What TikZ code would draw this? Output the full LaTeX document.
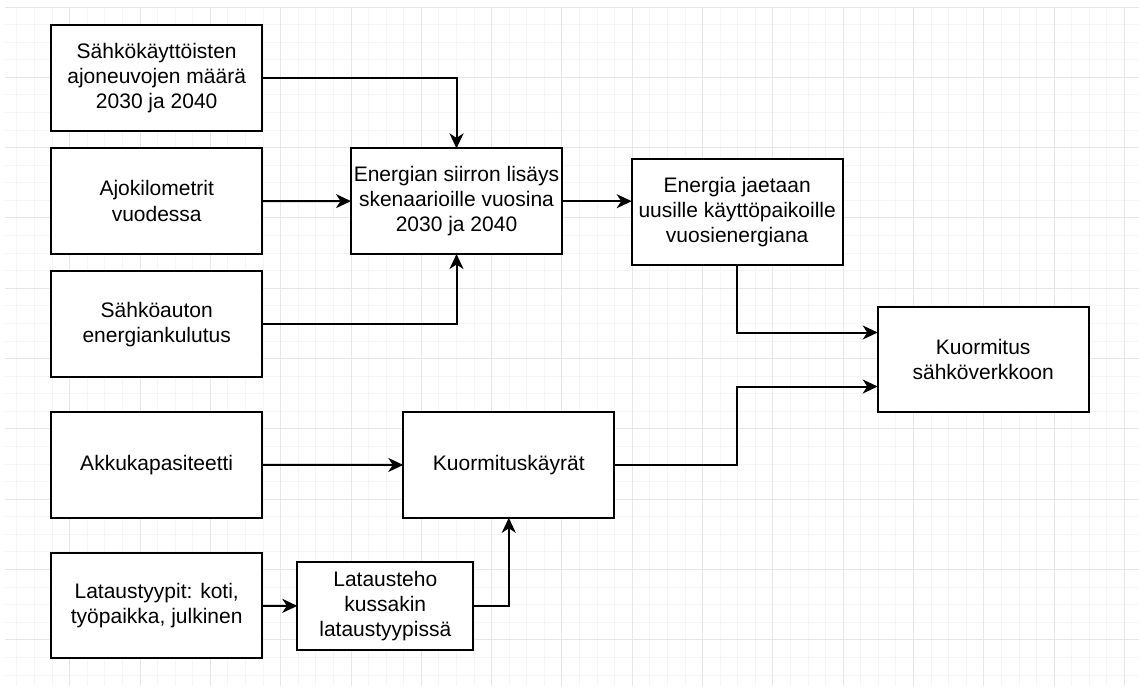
\documentclass[tikz,border=0pt]{standalone}
\usepackage{fontspec}
\setmainfont{Liberation Sans}
\usetikzlibrary{arrows.meta, positioning}

\definecolor{minorgrid}{HTML}{F5F5F5}
\definecolor{majorgrid}{HTML}{E6E6E6}

\begin{document}
\begin{tikzpicture}[
  x=1pt, y=-1pt,
  font=\fontsize{21}{25.2}\selectfont,
  box/.style={draw, line width=2pt, fill=white, align=center, inner sep=2pt, outer sep=0pt, minimum width=211pt, minimum height=105.6pt},
  smallbox/.style={box, minimum width=176pt, minimum height=87.7pt},
  arrow/.style={-{Stealth[length=15pt, width=14pt, inset=4.5pt]}, line width=2pt},
  node distance=17.6pt
]
\useasboundingbox (0,0) rectangle (1139,686);

% background grid
\begin{scope}
  \clip (5,7) rectangle (1139,686);
  \foreach \i in {0,...,65}
    \draw[minorgrid, line width=1pt] ({-0.6+17.58*\i},7) -- ++(0,679);
  \foreach \j in {0,...,39}
    \draw[minorgrid, line width=1pt] (5,{7+17.58*\j}) -- ++(1134,0);
  \foreach \i in {0,...,16}
    \draw[majorgrid, line width=1pt] ({-0.6+70.32*\i},7) -- ++(0,679);
  \foreach \j in {0,...,9}
    \draw[majorgrid, line width=1pt] (5,{7+70.32*\j}) -- ++(1134,0);
\end{scope}

% inputs
\node[box] (maara) at (156.7,77.8) {S\"ahk\"ok\"aytt\"oisten\\ajoneuvojen m\"a\"ar\"a\\2030 ja 2040};
\node[box, below=of maara] (ajokm) {Ajokilometrit\\vuodessa};
\node[box, below=of ajokm] (kulutus) {S\"ahk\"oauton\\energiankulutus};
\node[box, below=35pt of kulutus] (akku) {Akkukapasiteetti};
\node[box, below=35pt of akku] (tyypit) {Lataustyypit: koti,\\ty\"opaikka, julkinen};

% processing
\node[box] (siirto) at (456.5,201.2) {Energian siirron lis\"ays\\skenaarioille vuosina\\2030 ja 2040};
\node[box] (jako) at (737.2,212.2) {Energia jaetaan\\uusille k\"aytt\"opaikoille\\vuosienergiana};
\node[box] (kayrat) at (508.8,465) {Kuormitusk\"ayr\"at};
\node[smallbox] (teho) at (385.3,606.2) {Latausteho\\kussakin\\lataustyypiss\"a};
\node[box] (kuorma) at (983.2,359.5) {Kuormitus\\s\"ahk\"overkkoon};

\draw[arrow] (maara.east) -| (siirto.north);
\draw[arrow] (ajokm) -- (siirto);
\draw[arrow] (kulutus.east) -| (siirto.south);
\draw[arrow] (siirto.east) -- (siirto.east -| jako.west);
\draw[arrow] (jako.south) |- ([yshift=27pt]kuorma.west);
\draw[arrow] (akku) -- (kayrat);
\draw[arrow] (tyypit) -- (teho);
\draw[arrow] (teho.east) -| (kayrat.south);
\draw[arrow] (kayrat.east) -- (kayrat.east -| jako.south) |- ([yshift=-27pt]kuorma.west);
\end{tikzpicture}
\end{document}
